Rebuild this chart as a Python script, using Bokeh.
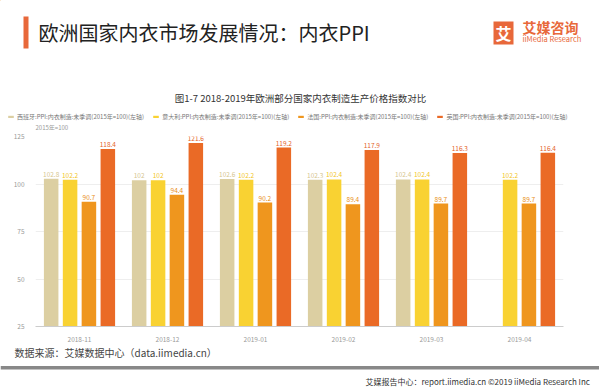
from bokeh.plotting import figure
from bokeh.layouts import column, row
from bokeh.models import (ColumnDataSource, FactorRange, Range1d, Legend, LegendItem,
                          FixedTicker)
from bokeh.transform import dodge
from bokeh.core.properties import value
from bokeh.embed import file_html
from bokeh.resources import INLINE

# ---------------- data ----------------
months = ["2018-11", "2018-12", "2019-01", "2019-02", "2019-03", "2019-04"]
spain = [102.8, 102.0, 102.6, 102.3, 102.4, None]
italy = [102.2, 102.0, 102.2, 102.4, 102.4, 102.2]
france = [90.7, 94.4, 90.2, 89.4, 89.7, 89.7]
uk = [118.4, 121.6, 119.2, 117.9, 116.3, 116.4]
series_names = [
    "西班牙:PPI:内衣制造:未季调(2015年=100)(左轴)",
    "意大利:PPI:内衣制造:未季调(2015年=100)(左轴)",
    "法国:PPI:内衣制造:未季调(2015年=100)(左轴)",
    "英国:PPI:内衣制造:未季调(2015年=100)(左轴)",
]
y_ticks = [25, 50, 75, 100, 125]

# ---------------- style ----------------
FONT = "Noto Sans CJK SC"
ORANGE = "#E8683A"
bar_colors = ["#DCCFA2", "#F9D232", "#EF961E", "#EA6A26"]
label_colors = ["#D6C690", "#F2C61E", "#E98E16", "#E4622A"]
offsets = [-0.322, -0.107, 0.107, 0.322]
BAR_W = 0.165
W = 599
HEAD_H, CHART_H, FOOT_H = 130, 214, 45


def blank(height):
    f = figure(width=W, height=height, x_range=Range1d(0, W), y_range=Range1d(height, 0),
               output_backend="svg", toolbar_location=None, min_border=0)
    f.axis.visible = False
    f.grid.grid_line_color = None
    f.outline_line_color = None
    return f


def txt(f, s, x, y, size, color, align="left", bold=False):
    f.text(x=[x], y=[y], text=[s], text_font=value(FONT), text_font_size=size,
           text_color=color, text_align=align, text_baseline="middle",
           text_font_style="bold" if bold else "normal")


# ---------------- header ----------------
head = blank(HEAD_H)
head.quad(left=[23], right=[28], top=[16], bottom=[48], fill_color=ORANGE, line_color=None)
txt(head, "欧洲国家内衣市场发展情况：内衣PPI", 38, 32, "20px", "#222222")
head.quad(left=[493], right=[513], top=[21], bottom=[44], fill_color=ORANGE, line_color=None)
txt(head, "艾", 503, 32.5, "16px", "white", align="center", bold=True)
txt(head, "艾媒咨询", 522, 26, "14px", ORANGE, bold=True)
txt(head, "iiMedia Research", 522, 38, "7.5px", ORANGE)
txt(head, "图1-7 2018-2019年欧洲部分国家内衣制造生产价格指数对比", 300, 97, "9.5px", "#333333",
    align="center")
txt(head, "2015年=100", 35, 126.5, "6px", "#9a9a9a")

dummy = [head.vbar(x=[-50], top=[-50], bottom=[-60], width=1, fill_color=c, line_color=None)
         for c in bar_colors]
legend = Legend(items=[LegendItem(label=n, renderers=[r]) for n, r in zip(series_names, dummy)],
                orientation="horizontal", location=(7, 9),
                label_text_font=FONT, label_text_font_size="6px",
                label_text_color="#777777", glyph_width=7, glyph_height=3,
                label_standoff=3, spacing=8, padding=0, margin=0,
                background_fill_alpha=0, border_line_color=None,
                label_height=8)
head.add_layout(legend, "center")

# ---------------- chart ----------------
p = figure(x_range=FactorRange(*months, range_padding=0), y_range=(25, 125),
           width=W, height=CHART_H, output_backend="svg", toolbar_location=None,
           min_border_left=35, min_border_right=36, min_border_top=6,
           min_border_bottom=16)
p.outline_line_color = None

for vals, col, lcol, off in zip([spain, italy, france, uk], bar_colors, label_colors, offsets):
    xs = [m for m, v in zip(months, vals) if v is not None]
    ys = [v for v in vals if v is not None]
    src = ColumnDataSource(dict(x=xs, top=ys, lab=[f"{v:g}" for v in ys]))
    p.vbar(x=dodge("x", off, range=p.x_range), top="top", bottom=25,
           width=BAR_W, source=src, fill_color=col, line_color=None)
    p.text(x=dodge("x", off, range=p.x_range), y="top", text="lab", source=src,
           text_align="center", text_baseline="bottom", y_offset=-2,
           text_font=value(FONT), text_font_size="6.5px", text_color=lcol)

p.yaxis.ticker = FixedTicker(ticks=y_ticks)
p.yaxis.axis_line_color = None
p.yaxis.major_tick_line_color = None
p.yaxis.minor_tick_line_color = None
p.yaxis.major_label_text_font = FONT
p.yaxis.major_label_text_font_size = "6.5px"
p.yaxis.major_label_text_color = "#9a9a9a"
p.yaxis.major_label_standoff = 5

p.xaxis.axis_line_color = "#cccccc"
p.xaxis.major_tick_line_color = None
p.xaxis.minor_tick_line_color = None
p.xaxis.major_label_text_font = FONT
p.xaxis.major_label_text_font_size = "6.5px"
p.xaxis.major_label_text_color = "#9a9a9a"
p.xaxis.major_label_standoff = 4

p.xgrid.grid_line_color = None
p.ygrid.grid_line_color = "#eeeeee"
p.ygrid.ticker = FixedTicker(ticks=y_ticks)

# ---------------- footer ----------------
foot = blank(FOOT_H)
txt(foot, "数据来源：艾媒数据中心（data.iimedia.cn）", 14, 8, "10px", "#444444")
foot.quad(left=[0], right=[W], top=[21.5], bottom=[25], fill_color="#888888",
          fill_alpha=1.0, line_color=None)
txt(foot, "艾媒报告中心：report.iimedia.cn  ©2019  iiMedia Research Inc", 593, 37, "8px",
    "#333333", align="right")

layout = column(row(head), row(p), row(foot), spacing=0)
open("out.html", "w").write(file_html(layout, INLINE))
